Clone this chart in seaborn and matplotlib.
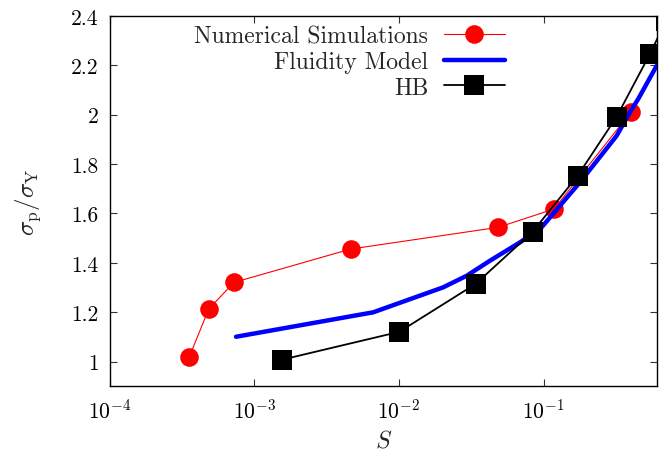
import seaborn as sns
import matplotlib.pyplot as plt
from matplotlib.ticker import FixedLocator, NullLocator, FormatStrFormatter, LogFormatterMathtext

# Numerical simulations (red circles)
sim_s = [3.56e-4, 4.84e-4, 7.24e-4, 4.63e-3, 0.0485, 0.118, 0.401]
sim_sigma = [1.02, 1.213, 1.321, 1.456, 1.544, 1.618, 2.01]

# Fluidity model (blue line)
fluid_s = [7.48e-4, 6.64e-3, 0.0202, 0.0294, 0.0426, 0.0686, 0.0968, 0.178, 0.320, 0.395, 0.451, 0.604]
fluid_sigma = [1.101, 1.200, 1.301, 1.348, 1.409, 1.483, 1.544, 1.726, 1.915, 2.010, 2.064, 2.198]

# Herschel-Bulkley (black squares)
hb_s = [1.55e-3, 0.01005, 0.0339, 0.0839, 0.172, 0.320, 0.543, 0.70]
hb_sigma = [1.008, 1.121, 1.315, 1.526, 1.753, 1.992, 2.246, 2.38]

y_ticks = [1, 1.2, 1.4, 1.6, 1.8, 2, 2.2, 2.4]
x_ticks = [1e-4, 1e-3, 1e-2, 1e-1]

sns.set_style('ticks')
plt.rcParams['font.family'] = ['cmr10', 'DejaVu Serif']
plt.rcParams['mathtext.fontset'] = 'cm'
plt.rcParams['axes.formatter.use_mathtext'] = True
plt.rcParams['font.size'] = 15

fig = plt.figure(figsize=(6.67, 4.56), dpi=100)
ax = fig.add_axes([0.1643, 0.1504, 0.8203, 0.8126])

sns.lineplot(x=sim_s, y=sim_sigma, ax=ax, sort=False, color='red', lw=0.8,
             marker='o', markersize=13.4, markeredgewidth=0, label='Numerical Simulations')
sns.lineplot(x=fluid_s, y=fluid_sigma, ax=ax, sort=False, color='blue', lw=3.2,
             label='Fluidity Model')
sns.lineplot(x=hb_s, y=hb_sigma, ax=ax, sort=False, color='black', lw=1.3,
             marker='s', markersize=14, markeredgewidth=0, label='HB')

ax.set_xscale('log')
ax.set_xlim(1e-4, 0.605)
ax.set_ylim(0.9, 2.4)
ax.xaxis.set_major_locator(FixedLocator(x_ticks))
ax.xaxis.set_major_formatter(LogFormatterMathtext())
ax.xaxis.set_minor_locator(NullLocator())
ax.yaxis.set_major_locator(FixedLocator(y_ticks))
ax.yaxis.set_major_formatter(FormatStrFormatter('%g'))
ax.tick_params(direction='in', length=5, width=0.8, top=True, right=True,
               labelsize=15.5, pad=8, colors='#333333', labelcolor='black')
for sp in ax.spines.values():
    sp.set_linewidth(1.0)
    sp.set_color('black')

ax.set_xlabel('$S$', fontsize=17, labelpad=6)
ax.set_ylabel(r'$\sigma_{\rm p}/\sigma_{\rm Y}$', fontsize=18, labelpad=20)

ax.legend(loc='upper right', bbox_to_anchor=(0.7227, 0.975), frameon=False,
          markerfirst=False, handlelength=2.6, handletextpad=0.65,
          borderpad=0, borderaxespad=0, labelspacing=0.15, fontsize=17)

fig.savefig('out.png', dpi=100)
